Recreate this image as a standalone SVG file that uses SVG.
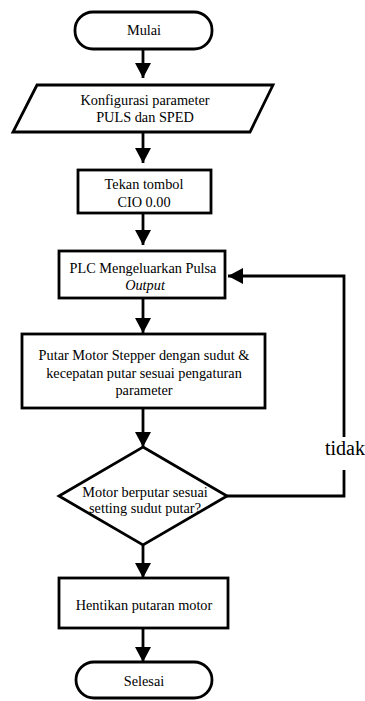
<svg xmlns="http://www.w3.org/2000/svg" width="365" height="701" viewBox="0 0 365 701">
<style>
.s{fill:#fff;stroke:#000;stroke-width:2.8}
.t{font-family:"Liberation Serif","DejaVu Serif","Times New Roman",serif;font-size:14.3px;fill:#000;text-anchor:middle}
.c{fill:none;stroke:#000;stroke-width:2.8}
</style>
<defs>
<marker id="ah" markerUnits="userSpaceOnUse" markerWidth="16" markerHeight="16" viewBox="0 0 16 16" refX="15" refY="8" orient="auto">
<path d="M0,0 L15,8 L0,16 Z" fill="#000"/>
</marker>
</defs>
<rect width="365" height="701" fill="#fff"/>
<g id="connectors">
<line class="c" x1="143" y1="49" x2="143" y2="78" marker-end="url(#ah)"/>
<line class="c" x1="143" y1="132" x2="143" y2="163" marker-end="url(#ah)"/>
<line class="c" x1="143" y1="213" x2="143" y2="245" marker-end="url(#ah)"/>
<line class="c" x1="143" y1="298" x2="143" y2="333" marker-end="url(#ah)"/>
<line class="c" x1="143" y1="408" x2="143" y2="447" marker-end="url(#ah)"/>
<line class="c" x1="143" y1="545" x2="143" y2="578" marker-end="url(#ah)"/>
<line class="c" x1="143" y1="628" x2="143" y2="662" marker-end="url(#ah)"/>
<polyline class="c" points="227,496 344,496 344,276 228,276" marker-end="url(#ah)"/>
<rect x="324" y="437" width="41" height="33" fill="#fff"/>
<text x="325" y="455" font-family="Liberation Serif, DejaVu Serif, serif" font-size="20">tidak</text>
</g>
<g id="start">
<rect class="s" x="75" y="12" width="137" height="37" rx="18"/>
<text class="t" x="144" y="35">Mulai</text>
</g>
<g id="config">
<polygon class="s" points="37,85 273,85 250,132 13,132"/>
<text class="t" x="145" y="105">Konfigurasi parameter</text>
<text class="t" x="145" y="122">PULS dan SPED</text>
</g>
<g id="button">
<rect class="s" x="78" y="170" width="133" height="43"/>
<text class="t" x="144" y="189">Tekan tombol</text>
<text class="t" x="144" y="207">CIO 0.00</text>
</g>
<g id="pulse">
<rect class="s" x="59" y="251" width="166" height="47"/>
<text class="t" x="143" y="273">PLC Mengeluarkan Pulsa</text>
<text class="t" x="145" y="290" font-style="italic">Output</text>
</g>
<g id="rotate">
<rect class="s" x="22" y="334" width="243" height="74"/>
<text class="t" x="144" y="360">Putar Motor Stepper dengan sudut &amp;</text>
<text class="t" x="144" y="378">kecepatan putar sesuai pengaturan</text>
<text class="t" x="144" y="395">parameter</text>
</g>
<g id="decision">
<polygon class="s" points="143,447 227,496 143,545 59,496"/>
<text class="t" x="145" y="497">Motor berputar sesuai</text>
<text class="t" x="145" y="513">setting sudut putar?</text>
</g>
<g id="stop">
<rect class="s" x="59" y="578" width="169" height="50"/>
<text class="t" x="144" y="610">Hentikan putaran motor</text>
</g>
<g id="end">
<rect class="s" x="76" y="662" width="136" height="36" rx="18"/>
<text class="t" x="144" y="686">Selesai</text>
</g>
</svg>
